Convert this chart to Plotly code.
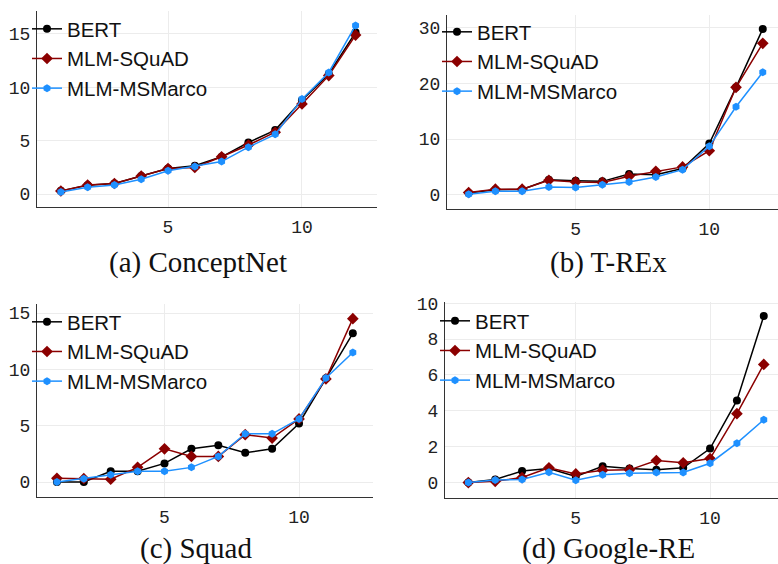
import plotly.graph_objects as go

steps = list(range(1, 13))

# (a) ConceptNet
cn_bert = [0.31, 0.84, 1.0, 1.7, 2.4, 2.66, 3.5, 4.84, 6.0, 8.8, 11.25, 15.15]
cn_squad = [0.3, 0.85, 1.0, 1.7, 2.4, 2.5, 3.5, 4.6, 5.8, 8.45, 11.1, 14.9]
cn_msmarco = [0.2, 0.65, 0.85, 1.4, 2.2, 2.6, 3.05, 4.4, 5.6, 8.9, 11.4, 15.8]

# (b) T-REx
tr_bert = [0.3, 0.9, 0.95, 2.7, 2.5, 2.4, 3.7, 3.6, 4.7, 9.2, 19.3, 29.8]
tr_squad = [0.4, 1.0, 1.0, 2.6, 2.3, 2.2, 3.3, 4.2, 5.0, 7.9, 19.3, 27.2]
tr_msmarco = [0.1, 0.6, 0.6, 1.4, 1.3, 1.8, 2.3, 3.2, 4.5, 8.7, 15.8, 22.0]

# (c) Squad
sq_bert = [0.0, 0.0, 0.95, 0.95, 1.65, 2.95, 3.27, 2.6, 2.95, 5.2, 9.2, 13.2]
sq_squad = [0.33, 0.3, 0.25, 1.3, 2.95, 2.27, 2.27, 4.2, 3.9, 5.6, 9.15, 14.5]
sq_msmarco = [0.0, 0.3, 0.65, 0.95, 0.95, 1.3, 2.27, 4.28, 4.28, 5.6, 9.23, 11.5]

# (d) Google-RE
gr_bert = [0.0, 0.17, 0.65, 0.78, 0.34, 0.91, 0.78, 0.71, 0.82, 1.9, 4.58, 9.29]
gr_squad = [0.0, 0.07, 0.28, 0.82, 0.48, 0.69, 0.71, 1.23, 1.1, 1.34, 3.84, 6.59]
gr_msmarco = [0.0, 0.15, 0.17, 0.58, 0.13, 0.43, 0.52, 0.56, 0.56, 1.08, 2.2, 3.5]

series_names = ["BERT", "MLM-SQuAD", "MLM-MSMarco"]
captions = ["(a) ConceptNet", "(b) T-REx", "(c) Squad", "(d) Google-RE"]
y_ticks = [[0, 5, 10, 15], [0, 10, 20, 30], [0, 5, 10, 15], [0, 2, 4, 6, 8, 10]]
x_ticks = [5, 10]

panels = [
    (cn_bert, cn_squad, cn_msmarco),
    (tr_bert, tr_squad, tr_msmarco),
    (sq_bert, sq_squad, sq_msmarco),
    (gr_bert, gr_squad, gr_msmarco),
]

W, H = 778, 564
colors = ["#000000", "#8b0000", "#1e90ff"]
symbols = ["circle", "diamond", "hexagon"]
msizes = [8, 9, 8]

# pixel boxes: (left, right, top, bottom)
boxes = [(37, 377, 11, 207), (447, 778, 15, 209), (37, 373, 304, 497), (445, 778, 302, 498)]
xranges = [[0.11, 12.8], [0.19, 12.57], [0.26, 12.75], [0.13, 12.53]]
yranges = [[-1.2, 17.15], [-2.57, 32.3], [-1.33, 15.8], [-0.86, 10.07]]
legpos = [(27, 9), (437, 12), (27, 302), (435, 301)]
cappos = [(198, 262), (608, 262), (196, 548), (608, 548)]

fig = go.Figure()
tickfont = dict(family="Liberation Mono", size=18, color="#222222")

for i, (vals, box) in enumerate(zip(panels, boxes)):
    sfx = "" if i == 0 else str(i + 1)
    leg = "legend" if i == 0 else "legend" + str(i + 1)
    for j in range(3):
        fig.add_trace(go.Scatter(
            x=steps, y=vals[j], name=series_names[j], mode="lines+markers",
            line=dict(color=colors[j], width=1.5),
            marker=dict(symbol=symbols[j], size=msizes[j], color=colors[j]),
            xaxis="x" + sfx, yaxis="y" + sfx, legend=leg,
        ))
    l, r, t, b = box
    fig.layout["xaxis" + sfx] = dict(
        domain=[l / W, r / W], range=xranges[i], anchor="y" + sfx,
        tickvals=x_ticks, showgrid=True, gridcolor="#ececec", gridwidth=1,
        showline=True, linecolor="#333333", linewidth=1, zeroline=False,
        ticks="", tickfont=tickfont, ticklabelstandoff=3, automargin=False,
    )
    fig.layout["yaxis" + sfx] = dict(
        domain=[1 - b / H, 1 - t / H], range=yranges[i], anchor="x" + sfx,
        tickvals=y_ticks[i], showgrid=True, gridcolor="#ececec", gridwidth=1,
        showline=True, linecolor="#333333", linewidth=1, zeroline=False,
        ticks="", tickfont=tickfont, ticklabelstandoff=2, automargin=False,
    )
    lx, ly = legpos[i]
    fig.layout[leg] = dict(
        x=lx / W, y=1 - ly / H, xanchor="left", yanchor="top",
        bgcolor="rgba(255,255,255,0)", borderwidth=0,
        font=dict(family="Liberation Sans", size=20.5, color="#111111"),
        itemwidth=30,
    )
    cx, cy = cappos[i]
    fig.add_annotation(
        text=captions[i], x=cx / W, y=1 - cy / H, xref="paper", yref="paper",
        showarrow=False, xanchor="center", yanchor="middle",
        font=dict(family="Liberation Serif", size=29, color="#111111"),
    )

fig.update_layout(
    template="none",
    width=W, height=H, margin=dict(l=0, r=0, t=0, b=0, autoexpand=False),
    paper_bgcolor="white", plot_bgcolor="white", showlegend=True,
)

fig.write_html(
    "out.html",
    config={"displayModeBar": False},
    post_script="document.body.style.margin='0';document.body.style.overflow='hidden';",
)
